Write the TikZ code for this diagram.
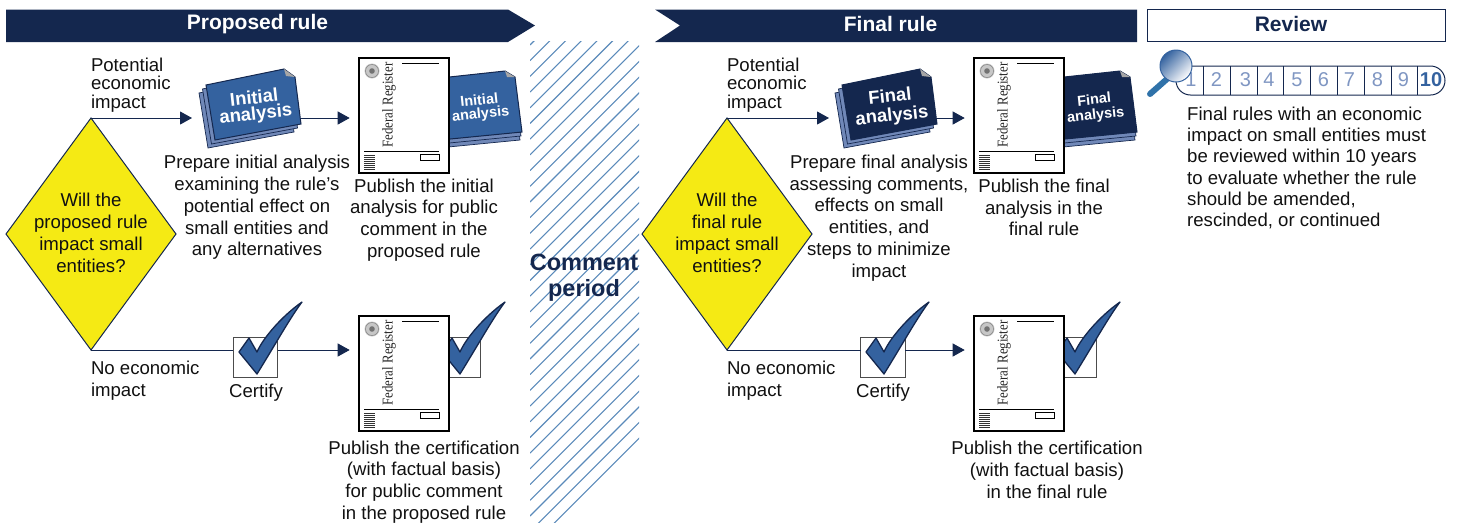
\documentclass[tikz,border=0pt]{standalone}
\usepackage{fontspec}
\setmainfont{Liberation Sans}
\newfontfamily\regfont{Liberation Serif}
\usetikzlibrary{shapes.geometric,arrows.meta,shadings}
\definecolor{navy}{HTML}{14274E}
\definecolor{sheetblue}{HTML}{34629F}
\definecolor{sheetback}{HTML}{7088B8}
\definecolor{ylw}{HTML}{F5EA14}
\definecolor{hatchc}{HTML}{5A8ABA}
\definecolor{numc}{HTML}{7F96C2}
\definecolor{txt}{HTML}{111111}
\tikzset{
  body/.style={font=\fontsize{18.6}{21.8}\selectfont,text=txt,inner sep=0pt,outer sep=0pt},
  bodyc/.style={body,align=center},
  bodyl/.style={body,align=left,anchor=west},
  tightl/.style={font=\fontsize{18.6}{18.6}\selectfont,text=txt,inner sep=0pt,outer sep=0pt,align=left,anchor=west},
  banner/.style={fill=navy,draw=none},
  bannertext/.style={font=\fontsize{21}{24}\selectfont\bfseries,text=white,inner sep=0pt},
  decision/.style={diamond,draw=navy,line width=1pt,fill=ylw,aspect=0.733,minimum width=170pt,minimum height=232pt,inner sep=0pt,outer sep=0pt},
  flow/.style={draw=navy,line width=1pt,-{Triangle[length=12pt,width=13pt]}},
  flowgap/.style={flow,shorten >=8pt},
  plainflow/.style={draw=navy,line width=1pt},
  frpage/.style={draw=black,fill=white,line width=2.6pt,minimum width=90pt,minimum height=115pt,inner sep=0pt,outer sep=1.3pt},
  tickbox/.style={draw=black!70,fill=white,line width=1pt,minimum width=44.5pt,minimum height=40pt,inner sep=0pt,outer sep=0pt},
  sheetlabel/.style={text=white,font=\bfseries,align=center,inner sep=0pt},
  numstyle/.style={font=\fontsize{20}{24}\selectfont,text=numc,inner sep=0pt},
}
% Federal Register page: #1 name, #2 x, #3 y
\newcommand{\frdoc}[3]{%
  \node[frpage] (#1) at (#2,#3) {};
  \begin{scope}[shift={(#2,#3)}]
    \fill[black!22] (-32,44.5) circle (7.5);
    \draw[black!50,line width=.5pt] (-32,44.5) circle (6.5);
    \fill[black!55] (-32,44.5) circle (2.8);
    \node[rotate=90,xscale=.86,text=black!85,inner sep=0pt,font=\fontsize{15}{18}\regfont] at (-15,10.5) {Federal Register};
    \draw[black,line width=1pt] (-2,52.5) -- (35,52.5);
    \draw[black,line width=1pt] (-40,-35.5) -- (35,-35.5);
    \draw[black,line width=1pt] (16,-38.5) rectangle (35,-44.5);
    \foreach \k in {0,...,7} \draw[black!80,line width=.5pt] (-40,-39.5-2*\k) -- (-29,-39.5-2*\k);
  \end{scope}}
% stack of sheets: #1 dx, #2 fill colour, #3 name, #4 text
\newcommand{\bigstack}[4]{%
  \begin{scope}[shift={(#1,0)}]
    \foreach \d/\e in {-7/8,-3.5/4}
      \draw[navy,fill=sheetback,line width=.7pt,shift={(\d,-\e)}] (206,-85) -- (284,-69) -- (295,-77) -- (301,-124) -- (215,-140) -- cycle;
    \draw[navy,fill=#2,line width=1pt] (206,-85) -- (284,-69) -- (295,-77) -- (301,-124) -- (215,-140) -- cycle;
    \fill[black!35] (284,-69) -- (295,-77) -- (286,-76) -- cycle;
    \node[sheetlabel,rotate=6,font=\fontsize{18.5}{19}\selectfont\bfseries] (#3) at (255,-107) {#4};
  \end{scope}}
\newcommand{\smallstack}[4]{%
  \begin{scope}[shift={(#1,0)}]
    \foreach \d/\e in {-2/8,-1/4}
      \draw[navy,fill=sheetback,line width=.7pt,shift={(\d,-\e)}] (440,-78) -- (505,-71) -- (515,-77) -- (522,-132) -- (440,-140) -- cycle;
    \draw[navy,fill=#2,line width=1pt] (440,-78) -- (505,-71) -- (515,-77) -- (522,-132) -- (440,-140) -- cycle;
    \fill[black!35] (505,-71) -- (515,-77) -- (507,-77) -- cycle;
    \node[sheetlabel,rotate=6,font=\fontsize{14.5}{15}\selectfont\bfseries] (#3) at (480,-108) {#4};
  \end{scope}}
% tick mark, #1 dx
\newcommand{\tick}[1]{%
  \begin{scope}[shift={(#1,0)}]
    \draw[navy,fill=sheetblue,line width=1.3pt,line join=round] (239,-352) -- (249,-338) -- (257,-352)
      .. controls (263,-338) and (282,-316) .. (302,-302)
      .. controls (290,-318) and (275,-345) .. (257,-374) -- cycle;
  \end{scope}}
\begin{document}
\begin{tikzpicture}[x=1pt,y=1pt]
\useasboundingbox (0,0) rectangle (1457,-523);
% banners
\fill[banner] (6,-9.5) -- (508,-9.5) -- (535,-25.5) -- (508,-42) -- (6,-42) -- cycle;
\node[bannertext] (h1) at (257.5,-24) {Proposed rule};
\fill[banner] (655,-9.5) -- (1137,-9.5) -- (1137,-42) -- (655,-42) -- (680,-25.5) -- cycle;
\node[bannertext] (h2) at (890.5,-24) {Final rule};
\node[draw=navy,line width=1pt,minimum width=298pt,minimum height=32pt,inner sep=0pt] (h3) at (1296,-25) {};
\node[text=navy,inner sep=0pt,font=\fontsize{21}{24}\selectfont\bfseries] (h3t) at (1291,-23.5) {Review};
% comment period hatch
\begin{scope}
  \clip (530,-41) rectangle (639,-522);
  \foreach \k in {-8,...,32}
    \draw[hatchc,line width=1.1pt] (530,-45-15.7*\k) -- +(120,120);
\end{scope}
\node[font=\fontsize{23.5}{26}\selectfont\bfseries,text=navy,align=center,inner sep=0pt] (cp) at (584,-278) {Comment\\period};
% left column
\node[decision] (d1) at (91,-234) {};
\node[bodyc] (d1t) at (91,-233) {Will the\\proposed rule\\impact small\\entities?};
\node[tightl] (p1) at (91,-85) {Potential\\economic\\impact};
\node[bodyl] (n1) at (91,-381) {No economic\\impact};
\bigstack{0}{sheetblue}{a1}{Initial\\[-3pt]analysis}
\smallstack{0}{sheetblue}{a1s}{Initial\\[-1.5pt]analysis}
\frdoc{f1}{404}{-115.5}
\node[bodyc] (t1) at (257,-207.5) {Prepare initial analysis\\examining the rule’s\\potential effect on\\small entities and\\any alternatives};
\node[bodyc] (t2) at (424,-220) {Publish the initial\\analysis for public\\comment in the\\proposed rule};
\node[tickbox] (c1) at (255.5,-357) {};
\tick{0}
\node[tickbox] (c1s) at (458.5,-357) {};
\tick{203}
\frdoc{f2}{404}{-373.5}
\node[body] (ct1) at (256,-393) {Certify};
\node[bodyc] (t3) at (424,-482) {Publish the certification\\(with factual basis)\\for public comment\\in the proposed rule};
% right column
\node[decision] (d2) at (727,-234) {};
\node[bodyc] (d2t) at (727,-233) {Will the\\final rule\\impact small\\entities?};
\node[tightl] (p2) at (727,-85) {Potential\\economic\\impact};
\node[bodyl] (n2) at (727,-381) {No economic\\impact};
\bigstack{636}{navy}{a2}{Final\\analysis}
\smallstack{615}{navy}{a2s}{Final\\analysis}
\frdoc{f3}{1019}{-115.5}
\node[bodyc] (t4) at (879,-218) {Prepare final analysis\\assessing comments,\\effects on small\\entities, and\\steps to minimize\\impact};
\node[bodyc] (t5) at (1044,-207.5) {Publish the final\\analysis in the\\final rule};
\node[tickbox] (c2) at (883,-357) {};
\tick{627}
\node[tickbox] (c2s) at (1074,-357) {};
\tick{818}
\frdoc{f4}{1019}{-373.5}
\node[body] (ct2) at (883,-393) {Certify};
\node[bodyc] (t6) at (1047,-470) {Publish the certification\\(with factual basis)\\in the final rule};
% connectors
\coordinate (a1in) at (192,-118);
\coordinate (e1) at (301,-118);
\coordinate (a2in) at (829,-118);
\coordinate (e2) at (937,-118);
\coordinate (s1) at (c1.west |- d1.south);
\coordinate (s1b) at (c1.east |- d1.south);
\coordinate (s2) at (c2.west |- d2.south);
\coordinate (s2b) at (c2.east |- d2.south);
\draw[flow] (d1.north) -- (a1in |- d1.north);
\draw[flowgap] (e1 |- d1.north) -- (f1.west |- d1.north);
\draw[plainflow] (d1.south) -- (s1);
\draw[flowgap] (s1b) -- (f2.west |- s1b);
\draw[flow] (d2.north) -- (a2in |- d2.north);
\draw[flowgap] (e2 |- d2.north) -- (f3.west |- d2.north);
\draw[plainflow] (d2.south) -- (s2);
\draw[flowgap] (s2b) -- (f4.west |- s2b);
% review timeline
\draw[navy,line width=1pt,rounded corners=14.5pt] (1176,-66) rectangle (1445,-95);
\foreach \x in {1203.3,1230,1257,1283.7,1310.3,1337.3,1364.3,1391,1417.7}
  \draw[navy,line width=.9pt] (\x,-66) -- (\x,-95);
\foreach \x/\n in {1191/1,1216.5/2,1245.5/3,1269/4,1297/5,1323.5/6,1349.5/7,1377.5/8,1403.5/9}
  \node[numstyle] at (\x,-80) {\n};
\node[numstyle,text=sheetblue,font=\fontsize{20}{24}\selectfont\bfseries] at (1431,-80) {10};
\draw[color=sheetblue!90!cyan,line width=6pt,line cap=round] (1150,-94) -- (1167,-79);
\shade[top color=sheetblue,bottom color=white,draw=sheetblue,line width=1pt,shading angle=45] (1176,-66) circle (16);
\node[font=\fontsize{18.6}{21.3}\selectfont,text=txt,inner sep=0pt,align=left,anchor=north west] (t7) at (1187,-106.5) {Final rules with an economic\\impact on small entities must\\be reviewed within 10 years\\to evaluate whether the rule\\should be amended,\\rescinded, or continued};
\end{tikzpicture}
\end{document}
